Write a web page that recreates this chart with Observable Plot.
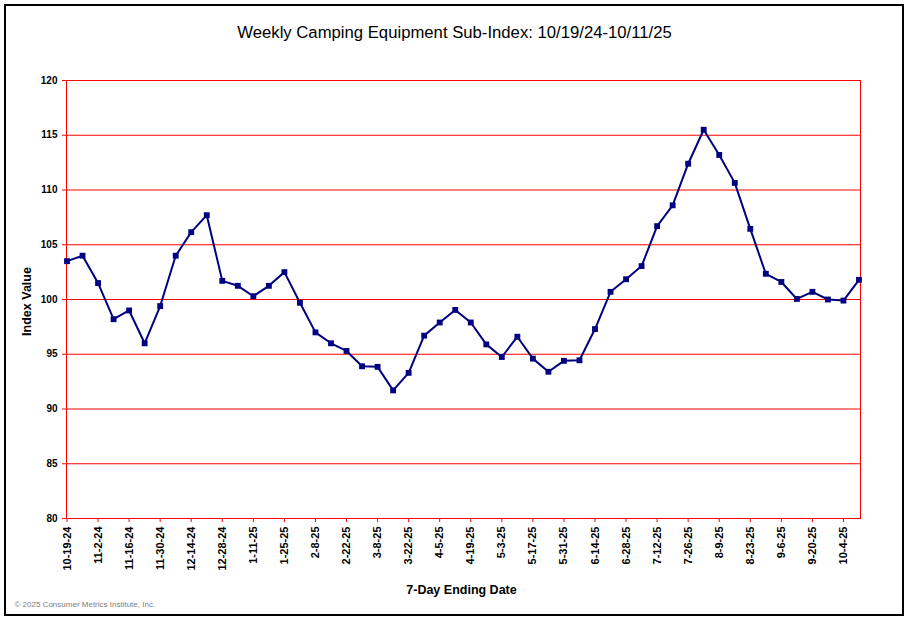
<!DOCTYPE html>
<html>
<head>
<meta charset="utf-8">
<script src="https://cdn.jsdelivr.net/npm/d3@7"></script>
<script src="https://cdn.jsdelivr.net/npm/@observablehq/plot@0.6"></script>
<style>
  html, body { margin: 0; padding: 0; background: #fff; }
  #wrap { position: relative; width: 909px; height: 621px; overflow: hidden; }
  #border { position: absolute; left: 4px; top: 4px; width: 900px; height: 612px; box-sizing: border-box; border: 2px solid #000; pointer-events: none; }
  #chart svg { position: absolute; left: 0; top: 0; }
</style>
</head>
<body>
<div id="wrap"><div id="chart"></div><div id="border"></div></div>
<script>
const weeks = [
  "10-19-24","10-26-24","11-2-24","11-9-24","11-16-24","11-23-24","11-30-24","12-7-24",
  "12-14-24","12-21-24","12-28-24","1-4-25","1-11-25","1-18-25","1-25-25","2-1-25",
  "2-8-25","2-15-25","2-22-25","3-1-25","3-8-25","3-15-25","3-22-25","3-29-25",
  "4-5-25","4-12-25","4-19-25","4-26-25","5-3-25","5-10-25","5-17-25","5-24-25",
  "5-31-25","6-7-25","6-14-25","6-21-25","6-28-25","7-5-25","7-12-25","7-19-25",
  "7-26-25","8-2-25","8-9-25","8-16-25","8-23-25","8-30-25","9-6-25","9-13-25",
  "9-20-25","9-27-25","10-4-25","10-11-25"
];
const values = [
  103.5, 104.0, 101.5, 98.2, 99.0, 96.0, 99.4, 104.0,
  106.15, 107.7, 101.7, 101.25, 100.3, 101.25, 102.5, 99.7,
  97.0, 96.0, 95.3, 93.9, 93.85, 91.7, 93.3, 96.7,
  97.9, 99.05, 97.9, 95.9, 94.75, 96.6, 94.6, 93.4,
  94.4, 94.45, 97.3, 100.7, 101.85, 103.05, 106.7, 108.6,
  112.4, 115.5, 113.2, 110.65, 106.45, 102.35, 101.6, 100.05,
  100.7, 100.0, 99.9, 101.8
];
const xTickLabels = [
  "10-19-24","11-2-24","11-16-24","11-30-24","12-14-24","12-28-24","1-11-25","1-25-25",
  "2-8-25","2-22-25","3-8-25","3-22-25","4-5-25","4-19-25","5-3-25","5-17-25",
  "5-31-25","6-14-25","6-28-25","7-12-25","7-26-25","8-9-25","8-23-25","9-6-25",
  "9-20-25","10-4-25"
];
const yTicks = [80, 85, 90, 95, 100, 105, 110, 115, 120];
const title = "Weekly Camping Equipment Sub-Index: 10/19/24-10/11/25";
const xLabel = "7-Day Ending Date";
const yLabel = "Index Value";
const credit = "\u00A9 2025 Consumer Metrics Institute, Inc.";

const data = weeks.map((w, i) => ({week: w, value: values[i]}));
const font = "'Liberation Sans', Arial, Helvetica, sans-serif";

const chart = Plot.plot({
  width: 909,
  height: 621,
  marginLeft: 66,
  marginRight: 49,
  marginTop: 80,
  marginBottom: 103,
  style: {fontFamily: font, background: "transparent", color: "#000", overflow: "visible"},
  x: {type: "point", domain: weeks, range: [66.5, 858.5], padding: 0, round: false},
  y: {domain: [80, 120]},
  marks: [
    Plot.ruleY(yTicks, {stroke: "#ff0000", strokeWidth: 1}),
    Plot.frame({stroke: "#ff0000", strokeWidth: 1}),
    Plot.axisY({ticks: yTicks, tickSize: 4, tickPadding: 5, stroke: "#ff0000", fill: "#000",
      fontWeight: "bold", fontSize: 10, label: null, tickFormat: d => String(d)}),
    Plot.axisX({ticks: xTickLabels, tickRotate: -90, tickSize: 4, tickPadding: 4, stroke: "#ff0000",
      fill: "#000", fontWeight: "bold", fontSize: 11, label: null}),
    Plot.line(data, {x: "week", y: "value", stroke: "#000080", strokeWidth: 2}),
    Plot.dot(data, {x: "week", y: "value", symbol: "square", r: 3.3, fill: "#000080", stroke: "none"}),
    Plot.text([title], {frameAnchor: "top", lineAnchor: "bottom", dx: -9, dy: -43, fontSize: 16.7, fill: "#000"}),
    Plot.text([xLabel], {frameAnchor: "bottom", lineAnchor: "bottom", dx: -2, dy: 75, fontSize: 12.5, fontWeight: "bold", fill: "#000"}),
    Plot.text([yLabel], {frameAnchor: "left", textAnchor: "middle", rotate: -90, dx: -40, dy: 2, fontSize: 12.5, fontWeight: "bold", fill: "#000"}),
    Plot.text([credit], {frameAnchor: "bottom-left", textAnchor: "start", lineAnchor: "bottom", dx: -52, dy: 88, fontSize: 8, fill: "#808080"})
  ]
});
document.getElementById("chart").appendChild(chart);
</script>
</body>
</html>
